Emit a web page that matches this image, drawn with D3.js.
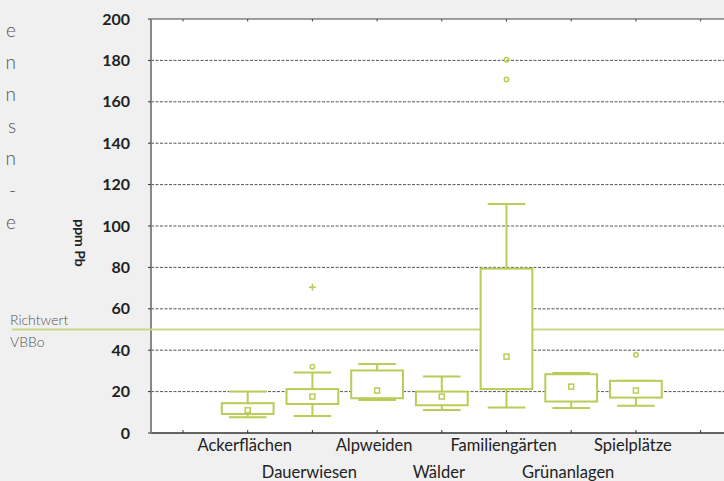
<!DOCTYPE html>
<html>
<head>
<meta charset="utf-8">
<script src="https://cdn.jsdelivr.net/npm/d3@7"></script>
<style>
  body { margin: 0; background: #f0f0f0; }
  svg { display: block; font-family: Lato, "Open Sans", sans-serif; }
</style>
</head>
<body>
<svg width="724" height="481"></svg>
<script>
// Categories and box statistics (ppm Pb)
const categories = ["Ackerflächen", "Dauerwiesen", "Alpweiden", "Wälder", "Familiengärten", "Grünanlagen", "Spielplätze"];
const whiskerLow  = [7.6, 8.2, 16, 11.1, 12.3, 12.1, 13.2];
const boxLow      = [9.2, 14, 16.8, 13.4, 21.2, 15.2, 17.1];
const boxHigh     = [14.4, 21.2, 30.2, 20, 79.4, 28.4, 25.2];
const whiskerHigh = [20, 29.2, 33.3, 27.3, 110.6, 29, 25.2];
const means       = [11, 17.6, 20.5, 17.6, 36.9, 22.4, 20.5];
// outliers: [category index, value]
const outliers    = [[1, 32], [4, 180.3], [4, 170.8], [6, 37.8]];
const extremes    = [[1, 70.4]];
const yTicks      = [0, 20, 40, 60, 80, 100, 120, 140, 160, 180, 200];
const richtwert   = 50;
const sideLetters = ["e", "n", "n", "s", "n", "-", "e"];

const svg = d3.select("svg");
const green = "#b9cc55";

const y = d3.scaleLinear().domain([0, 200]).range([433, 19]);
const x = d3.scaleBand().domain(categories).range([215.35, 668.25]).paddingInner(0).paddingOuter(0);
const step = x.bandwidth();
const cx = c => x(c) + step / 2;

// plot background
svg.append("rect")
    .attr("x", 151).attr("y", y(200))
    .attr("width", 724 - 151).attr("height", y(0) - y(200))
    .attr("fill", "#fff");

// dashed grid lines
svg.selectAll(".grid")
    .data(yTicks.filter(d => d > 0 && d < 200))
    .join("line")
    .attr("x1", 151).attr("x2", 724)
    .attr("y1", d => y(d)).attr("y2", d => y(d))
    .attr("stroke", "#555").attr("stroke-width", 1)
    .attr("stroke-dasharray", "3,1.5");

// category tick positions (including empty slots at both sides)
const tickX = [cx(categories[0]) - step]
    .concat(categories.map(cx))
    .concat([cx(categories[categories.length - 1]) + step]);

// top border with ticks
svg.append("line")
    .attr("x1", 151).attr("x2", 724)
    .attr("y1", y(200)).attr("y2", y(200))
    .attr("stroke", "#444").attr("stroke-width", 1.2);
svg.selectAll(".ttick").data(tickX).join("line")
    .attr("x1", d => d).attr("x2", d => d)
    .attr("y1", y(200)).attr("y2", y(200) + 2.5)
    .attr("stroke", "#444");

// bottom axis with ticks
svg.append("line")
    .attr("x1", 151).attr("x2", 724)
    .attr("y1", y(0)).attr("y2", y(0))
    .attr("stroke", "#333").attr("stroke-width", 1.5);
svg.selectAll(".btick").data(tickX).join("line")
    .attr("x1", d => d).attr("x2", d => d)
    .attr("y1", y(0)).attr("y2", y(0) - 3)
    .attr("stroke", "#333");

// left axis
svg.append("line")
    .attr("x1", 151).attr("x2", 151)
    .attr("y1", y(200)).attr("y2", y(0))
    .attr("stroke", "#888").attr("stroke-width", 2);
svg.selectAll(".ytick").data(yTicks).join("line")
    .attr("x1", 148).attr("x2", 151)
    .attr("y1", d => y(d)).attr("y2", d => y(d))
    .attr("stroke", "#333");

// y tick labels
svg.selectAll(".ylab").data(yTicks).join("text")
    .attr("x", 130).attr("y", d => y(d) + 5.5)
    .attr("text-anchor", "end")
    .attr("font-size", 16).attr("font-weight", 700)
    .attr("fill", "#222")
    .text(d => d);

// y axis title
svg.append("text")
    .attr("transform", `translate(75,${y(100) + 17}) rotate(90)`)
    .attr("text-anchor", "middle")
    .attr("font-size", 14).attr("font-weight", 700)
    .attr("fill", "#222")
    .text("ppm Pb");

// category labels, staggered in two rows
svg.selectAll(".xlab").data(categories).join("text")
    .attr("x", d => cx(d) - 3)
    .attr("y", (d, i) => i % 2 === 0 ? 451 : 478)
    .attr("text-anchor", "middle")
    .attr("font-size", 16.5)
    .attr("fill", "#222")
    .text(d => d);

// Richtwert line and labels
svg.append("line")
    .attr("x1", 12).attr("x2", 724)
    .attr("y1", y(richtwert)).attr("y2", y(richtwert))
    .attr("stroke", "#c6d88a").attr("stroke-width", 2);
svg.append("text").attr("x", 10).attr("y", y(richtwert) - 5)
    .attr("font-size", 14).attr("font-weight", 300).attr("fill", "#555")
    .text("Richtwert");
svg.append("text").attr("x", 10).attr("y", y(richtwert) + 17)
    .attr("font-size", 14).attr("font-weight", 300).attr("fill", "#555")
    .text("VBBo");

// side text, last letters of a column at the left edge
svg.selectAll(".side").data(sideLetters).join("text")
    .attr("x", 16).attr("y", (d, i) => 37 + i * 32)
    .attr("text-anchor", "end")
    .attr("font-size", 19).attr("font-weight", 300).attr("fill", "#555")
    .text(d => d);

// boxes
const boxW = step * 0.8, capW = step * 0.58;
categories.forEach((c, i) => {
    const g = svg.append("g").attr("stroke", green).attr("fill", "none").attr("stroke-width", 2);
    const m = cx(c);
    g.append("line").attr("x1", m).attr("x2", m)
        .attr("y1", y(whiskerHigh[i])).attr("y2", y(boxHigh[i]));
    g.append("line").attr("x1", m).attr("x2", m)
        .attr("y1", y(boxLow[i])).attr("y2", y(whiskerLow[i]));
    g.append("line").attr("x1", m - capW / 2).attr("x2", m + capW / 2)
        .attr("y1", y(whiskerHigh[i])).attr("y2", y(whiskerHigh[i]));
    g.append("line").attr("x1", m - capW / 2).attr("x2", m + capW / 2)
        .attr("y1", y(whiskerLow[i])).attr("y2", y(whiskerLow[i]));
    g.append("rect").attr("x", m - boxW / 2).attr("y", y(boxHigh[i]))
        .attr("width", boxW).attr("height", y(boxLow[i]) - y(boxHigh[i]))
        .attr("fill", "#fff");
    g.append("rect").attr("x", m - 2.5).attr("y", y(means[i]) - 2.5)
        .attr("width", 5).attr("height", 5).attr("stroke-width", 1.5);
});

// outliers
svg.selectAll(".out").data(outliers).join("circle")
    .attr("cx", d => cx(categories[d[0]]))
    .attr("cy", d => y(d[1]))
    .attr("r", 2.2)
    .attr("fill", "none").attr("stroke", green).attr("stroke-width", 1.5);

svg.selectAll(".ext").data(extremes).join("path")
    .attr("d", d => {
        const px = cx(categories[d[0]]), py = y(d[1]);
        return `M${px - 3.5},${py}H${px + 3.5}M${px},${py - 3.5}V${py + 3.5}`;
    })
    .attr("stroke", green).attr("stroke-width", 1.5);

// title, mostly cut off at the top edge
svg.append("text")
    .attr("x", 724).attr("y", -3)
    .attr("text-anchor", "end")
    .attr("font-size", 16).attr("font-weight", 300).attr("fill", "#555")
    .text("Vergleich mit Richtwert gemäss VBBo");
</script>
</body>
</html>
